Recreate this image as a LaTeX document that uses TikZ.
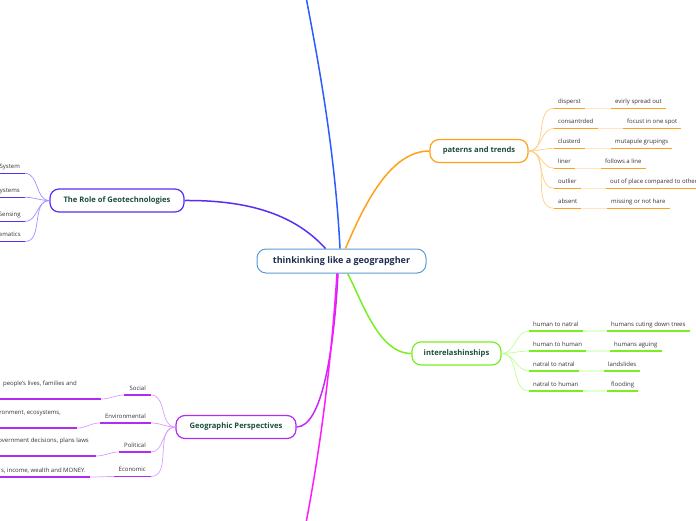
\documentclass[tikz,border=0pt]{standalone}
\usepackage{fontspec}
\setmainfont{Open Sans}
\usepackage{tikz}
\usetikzlibrary{positioning}

\definecolor{hubline}{HTML}{5B9BD5}
\definecolor{hubtext}{HTML}{1F2D50}
\definecolor{branchtext}{HTML}{1B4D3E}
\definecolor{subtext}{HTML}{333333}
\definecolor{topblue}{HTML}{2A5CFF}
\definecolor{geopurple}{HTML}{5A2EF0}
\definecolor{geolight}{HTML}{A090FF}
\definecolor{patorange}{HTML}{FFA11A}
\definecolor{patlight}{HTML}{FFCC80}
\definecolor{patpale}{HTML}{FFE6C4}
\definecolor{intgreen}{HTML}{7AEE22}
\definecolor{intlight}{HTML}{BFFF90}
\definecolor{intpale}{HTML}{E2FFD0}
\definecolor{perviolet}{HTML}{B02CF0}
\definecolor{perlight}{HTML}{DC9CFF}
\definecolor{botmagenta}{HTML}{FF1AFF}

\begin{document}
\begin{tikzpicture}[
  x=1pt, y=-1pt,
  hub/.style={draw=hubline, line width=1pt, rounded corners=9pt, fill=white,
    text=hubtext, font=\bfseries\fontsize{9}{10}\selectfont,
    minimum width=169pt, minimum height=24pt},
  branch/.style={draw, line width=1.2pt, rounded corners=9pt, fill=white,
    text=branchtext, font=\bfseries\fontsize{7.6}{9}\selectfont,
    minimum height=23pt},
  sub/.style={text=subtext, font=\fontsize{6}{7}\selectfont,
    text height=4.6pt, text depth=1.4pt, inner xsep=4pt, inner ysep=3pt},
  mainline/.style={line width=1.5pt},
  uline/.style={line width=1.6pt},
  thin/.style={line width=0.7pt}
]
\useasboundingbox (0,0) rectangle (696,520);

% central topic
\node[hub] (hub) at (341.5,261) {thinkinking like a geograpgher};
\coordinate (topend) at (306,-3);
\coordinate (botend) at (306,523);

% main branches
\node[branch, draw=geopurple, minimum width=134pt] (geo) at (117,200.5) {The Role of Geotechnologies};
\node[branch, draw=patorange, minimum width=98pt] (pat) at (479,151) {paterns and trends};
\node[branch, draw=intgreen, minimum width=89pt] (int) at (456.5,353.5) {interelashinships};
\node[branch, draw=perviolet, minimum width=120pt] (per) at (236,427) {Geographic Perspectives};

\draw[mainline, topblue] ([xshift=-1.5pt]hub.north) .. controls (335,150) and (318,60) .. (topend);
\draw[mainline, geopurple] (geo.east) .. controls (250,200) and (295,215) .. ([xshift=-16pt]hub.north);
\draw[mainline, patorange] ([xshift=4pt]hub.north) .. controls (364,205) and (390,151) .. (pat.west);
\draw[mainline, intgreen] ([xshift=6pt]hub.south) .. controls (362,300) and (378,353.5) .. (int.west);
\draw[mainline, perviolet!70!botmagenta] ([xshift=-3.5pt]hub.south) .. controls (334,350) and (322,427) .. (per.east);
\draw[mainline, botmagenta] ([xshift=-4.5pt]hub.south) .. controls (330,380) and (318,460) .. (botend);

% paterns and trends
\node[sub, anchor=south west] (pat1) at (554,108.3) {disperst};
\node[sub, anchor=south west] (pat2) at (554,128.3) {consantrded};
\node[sub, anchor=south west] (pat3) at (554,148.3) {clusterd};
\node[sub, anchor=south west] (pat4) at (554,168.3) {liner};
\node[sub, anchor=south west] (pat5) at (554,188.3) {outlier};
\node[sub, anchor=south west] (pat6) at (554,208.3) {absent};
\node[sub, anchor=south west] (pat1l) at (611,108.3) {evirly spread out};
\node[sub, anchor=south west] (pat2l) at (623,128.3) {focust in one spot};
\node[sub, anchor=south west] (pat3l) at (611,148.3) {mutapule grupings};
\node[sub, anchor=south west] (pat4l) at (601,168.3) {follows a line};
\node[sub, anchor=south west] (pat5l) at (606,188.3) {out of place compared to other};
\node[sub, anchor=south west] (pat6l) at (607,208.3) {missing or not hare};
\foreach \i in {1,...,6} {
  \draw[thin, patlight] (pat.east) to[out=0, in=180] (pat\i.south west);
  \draw[thin, patpale] (pat\i.south east) -- (pat\i l.south west);
  \draw[uline, patorange] (pat\i.south west) -- (pat\i.south east);
  \draw[uline, patorange] (pat\i l.south west) -- (pat\i l.south east);
}

% interelashinships
\node[sub, anchor=south west] (int1) at (529,331) {human to natral};
\node[sub, anchor=south west] (int2) at (529,351) {human to human};
\node[sub, anchor=south west] (int3) at (529,371) {natral to natral};
\node[sub, anchor=south west] (int4) at (529,391) {natral to human};
\node[sub, anchor=south west] (int1l) at (607,331) {humans cuting down trees};
\node[sub, anchor=south west] (int2l) at (610,351) {humans aguing};
\node[sub, anchor=south west] (int3l) at (604,371) {landslides};
\node[sub, anchor=south west] (int4l) at (607,391) {flooding};
\foreach \i in {1,...,4} {
  \draw[thin, intlight] (int.east) to[out=0, in=180] (int\i.south west);
  \draw[uline, intpale] (int\i.south east) -- (int\i l.south west);
  \draw[uline, intgreen] (int\i.south west) -- (int\i.south east);
  \draw[uline, intgreen] (int\i l.south west) -- (int\i l.south east);
}

% the role of geotechnologies
\node[sub, anchor=south east, minimum width=60pt] (geo1) at (25,173.3) {\hspace*{30pt}System};
\node[sub, anchor=south east, minimum width=60pt] (geo2) at (25,197.3) {\hspace*{30pt}ystems};
\node[sub, anchor=south east, minimum width=60pt] (geo3) at (25,221.5) {\hspace*{30pt}Sensing};
\node[sub, anchor=south east, minimum width=60pt] (geo4) at (25,241.5) {\hspace*{30pt}ematics};
\foreach \i in {1,...,4} {
  \draw[thin, geolight] (geo.west) to[out=180, in=0] (geo\i.south east);
  \draw[uline, geopurple] (geo\i.south west) -- (geo\i.south east);
}

% geographic perspectives
\node[sub, anchor=south east, inner xsep=5pt] (per1) at (151,395) {Social};
\node[sub, anchor=south east, inner xsep=5pt] (per2) at (151,423) {Environmental};
\node[sub, anchor=south east, inner xsep=5pt] (per3) at (151,452) {Political};
\node[sub, anchor=south east, inner xsep=5pt] (per4) at (151,476.5) {Economic};
\node[sub, anchor=south east, text depth=10pt] (per1l) at (101,399) {\hspace*{40pt}people's lives, families and\hspace*{20pt}};
\node[sub, anchor=south east, text depth=10pt] (per2l) at (77,428) {\hspace*{40pt}ronment, ecosystems,\hspace*{12pt}};
\node[sub, anchor=south east, text depth=10pt] (per3l) at (96,456) {\hspace*{40pt}overnment decisions, plans laws\hspace*{3pt}};
\node[sub, anchor=south east] (per4l) at (90,477) {\hspace*{40pt}s, income, wealth and MONEY.};
\foreach \i in {1,...,4} {
  \draw[thin, perlight] (per.west) to[out=180, in=0] (per\i.south east);
  \draw[thin, perlight] (per\i.south west) to[out=180, in=0] (per\i l.south east);
  \draw[uline, perviolet] (per\i.south west) -- (per\i.south east);
  \draw[uline, perviolet] (per\i l.south west) -- (per\i l.south east);
}
\end{tikzpicture}
\end{document}
